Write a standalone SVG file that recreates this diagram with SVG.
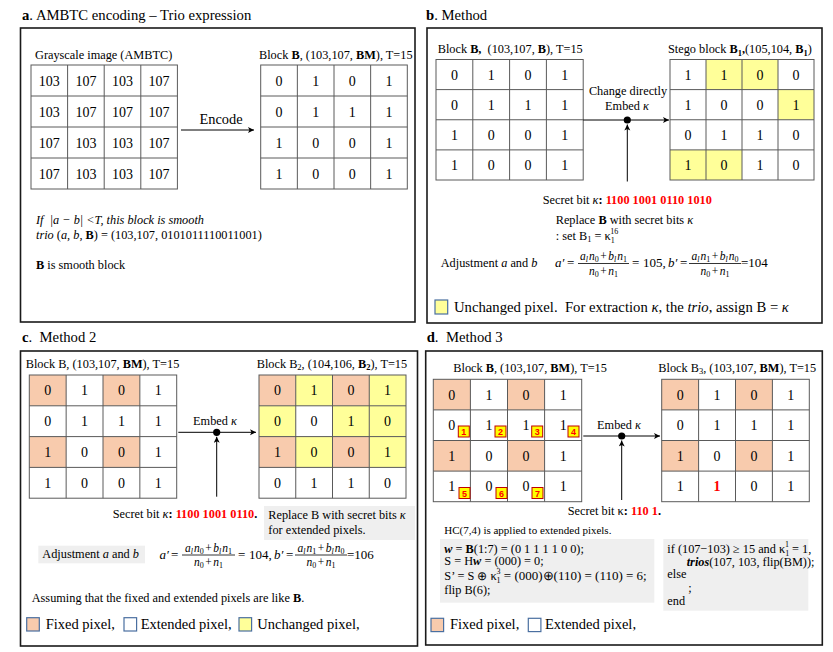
<svg xmlns="http://www.w3.org/2000/svg" width="833" height="652" viewBox="0 0 833 652">
<defs>
<style>
text{font-family:"Liberation Serif","Times New Roman",serif;fill:#000}
.ti{font-size:14.7px}
.lg{font-size:14.5px}
.lb{font-size:12.3px}
.sm{font-size:12.3px}
.dg{font-size:14px;text-anchor:middle}
.b{font-weight:bold}
.i{font-style:italic}
.r{fill:#FF0000;font-weight:bold}
.mid{text-anchor:middle}
.panel{fill:none;stroke:#1a1a1a;stroke-width:1.6}
.grid{fill:none;stroke:#5a5a5a;stroke-width:1}
.fx{fill:#F8CBAD}
.yl{fill:#FFFF99}
.wh{fill:#FFFFFF}
.gb{fill:#EFEFEF}
.conn{stroke:#000;stroke-width:1;fill:none}
.leg{stroke:#4A6FA0;stroke-width:1.2}
.badge{fill:#FFFF00;stroke:#C00000;stroke-width:1}
.bn{font-family:"Liberation Sans",Arial,sans-serif;font-size:9px;font-weight:bold;fill:#FF0000;text-anchor:middle}
.fr{font-size:11.5px}
.m{font-size:13px}
.bar{stroke:#000;stroke-width:0.8}
</style>
<marker id="ah" markerWidth="8" markerHeight="8" refX="6" refY="3" orient="auto" markerUnits="userSpaceOnUse"><path d="M0,0 L6,3 L0,6 L1.5,3 Z" fill="#000"/></marker>
</defs>
<rect width="833" height="652" fill="#FFFFFF"/>

<!-- Panel a -->
<g id="panel-a">
<text class="ti" x="22" y="19.5"><tspan class="b">a</tspan>. AMBTC encoding – Trio expression</text>
<rect class="panel" x="20.5" y="28" width="394.5" height="294"/>
</g>
<g id="grayscale-image">
<text class="sm" x="35" y="59">Grayscale image (AMBTC)</text>
<rect class="grid" x="31" y="65" width="146.4" height="124"/>
<path class="grid" d="M67.6,65V189M104.2,65V189M140.8,65V189M31,96H177.4M31,127H177.4M31,158H177.4"/>
<text class="dg" x="49.3" y="85.5">103</text><text class="dg" x="85.9" y="85.5">107</text><text class="dg" x="122.5" y="85.5">103</text><text class="dg" x="159.1" y="85.5">107</text>
<text class="dg" x="49.3" y="116.5">103</text><text class="dg" x="85.9" y="116.5">107</text><text class="dg" x="122.5" y="116.5">107</text><text class="dg" x="159.1" y="116.5">107</text>
<text class="dg" x="49.3" y="147.5">107</text><text class="dg" x="85.9" y="147.5">103</text><text class="dg" x="122.5" y="147.5">103</text><text class="dg" x="159.1" y="147.5">107</text>
<text class="dg" x="49.3" y="178.5">107</text><text class="dg" x="85.9" y="178.5">103</text><text class="dg" x="122.5" y="178.5">103</text><text class="dg" x="159.1" y="178.5">107</text>
</g>
<g id="block-B-a">
<text class="lb" x="259" y="59" font-size="12.1">Block <tspan class="b">B</tspan>, (103,107, <tspan class="b">BM</tspan>), T=15</text>
<rect class="grid" x="260.7" y="65" width="146.6" height="124"/>
<path class="grid" d="M297.35,65V189M334,65V189M370.65,65V189M260.7,96H407.3M260.7,127H407.3M260.7,158H407.3"/>
<text class="dg" x="279" y="85.5">0</text><text class="dg" x="315.7" y="85.5">1</text><text class="dg" x="352.3" y="85.5">0</text><text class="dg" x="389" y="85.5">1</text>
<text class="dg" x="279" y="116.5">0</text><text class="dg" x="315.7" y="116.5">1</text><text class="dg" x="352.3" y="116.5">1</text><text class="dg" x="389" y="116.5">1</text>
<text class="dg" x="279" y="147.5">1</text><text class="dg" x="315.7" y="147.5">0</text><text class="dg" x="352.3" y="147.5">0</text><text class="dg" x="389" y="147.5">1</text>
<text class="dg" x="279" y="178.5">1</text><text class="dg" x="315.7" y="178.5">0</text><text class="dg" x="352.3" y="178.5">0</text><text class="dg" x="389" y="178.5">1</text>
</g>
<g id="notes-a">
<text x="221" y="124" class="mid" font-size="14.4">Encode</text>
<text class="sm i" x="36" y="224" style="white-space:pre">If  |a − b| &lt;T, this block is smooth</text>
<text class="sm" x="36" y="238.5"><tspan class="i">trio</tspan> (<tspan class="i">a</tspan>, <tspan class="i">b</tspan>, <tspan class="b">B</tspan>) = (103,107, 0101011110011001)</text>
<text class="sm" x="36" y="269"><tspan class="b">B</tspan> is smooth block</text>
</g>

<!-- Panel b -->
<g id="panel-b">
<text class="ti" x="426" y="19.5"><tspan class="b">b</tspan>. Method</text>
<rect class="panel" x="427" y="28" width="395" height="295"/>
</g>
<g id="block-B-b">
<text class="lb" x="437.7" y="53" style="white-space:pre">Block <tspan class="b">B,</tspan>  (103,107, <tspan class="b">B</tspan>), T=15</text>
<rect class="grid" x="436" y="59.5" width="147.2" height="120.5"/>
<path class="grid" d="M472.8,59.5V180M509.6,59.5V180M546.4,59.5V180M436,89.6H583.2M436,119.75H583.2M436,149.9H583.2"/>
<text class="dg" x="454.4" y="79.6">0</text><text class="dg" x="491.2" y="79.6">1</text><text class="dg" x="528" y="79.6">0</text><text class="dg" x="564.8" y="79.6">1</text>
<text class="dg" x="454.4" y="109.7">0</text><text class="dg" x="491.2" y="109.7">1</text><text class="dg" x="528" y="109.7">1</text><text class="dg" x="564.8" y="109.7">1</text>
<text class="dg" x="454.4" y="139.8">1</text><text class="dg" x="491.2" y="139.8">0</text><text class="dg" x="528" y="139.8">0</text><text class="dg" x="564.8" y="139.8">1</text>
<text class="dg" x="454.4" y="169.9">1</text><text class="dg" x="491.2" y="169.9">0</text><text class="dg" x="528" y="169.9">0</text><text class="dg" x="564.8" y="169.9">1</text>
</g>
<g id="stego-block-B1">
<text class="lb" x="668" y="53" font-size="12.5">Stego block <tspan class="b">B</tspan><tspan class="b" font-size="8.5" dy="2.5">1</tspan><tspan class="b" dy="-2.5">,</tspan>(105,104, <tspan class="b">B</tspan><tspan class="b" font-size="8.5" dy="2.5">1</tspan><tspan dy="-2.5">)</tspan></text>
<rect class="yl" x="706" y="59.5" width="36" height="30.1"/>
<rect class="yl" x="742" y="59.5" width="36" height="30.1"/>
<rect class="yl" x="778" y="89.6" width="36" height="30.15"/>
<rect class="yl" x="670" y="149.9" width="36" height="30.1"/>
<rect class="yl" x="706" y="149.9" width="36" height="30.1"/>
<rect class="grid" x="670" y="59.5" width="144" height="120.5"/>
<path class="grid" d="M706,59.5V180M742,59.5V180M778,59.5V180M670,89.6H814M670,119.75H814M670,149.9H814"/>
<text class="dg" x="688" y="79.6">1</text><text class="dg" x="724" y="79.6">1</text><text class="dg" x="760" y="79.6">0</text><text class="dg" x="796" y="79.6">0</text>
<text class="dg" x="688" y="109.7">1</text><text class="dg" x="724" y="109.7">0</text><text class="dg" x="760" y="109.7">0</text><text class="dg" x="796" y="109.7">1</text>
<text class="dg" x="688" y="139.8">0</text><text class="dg" x="724" y="139.8">1</text><text class="dg" x="760" y="139.8">1</text><text class="dg" x="796" y="139.8">0</text>
<text class="dg" x="688" y="169.9">1</text><text class="dg" x="724" y="169.9">0</text><text class="dg" x="760" y="169.9">1</text><text class="dg" x="796" y="169.9">0</text>
</g>
<g id="notes-b">
<text class="sm mid" x="628" y="95">Change directly</text>
<text class="sm mid" x="627" y="109.5">Embed <tspan class="i">κ</tspan></text>
<text class="lb" x="542.7" y="204" font-size="12.5">Secret bit <tspan class="i">κ</tspan><tspan class="b">: </tspan><tspan class="r">1100 1001 0110 1010</tspan></text>
<text class="lb" x="555.7" y="223.5" font-size="12.5">Replace <tspan class="b">B</tspan> with secret bits <tspan class="i">κ</tspan></text>
<text class="lb" x="555.7" y="239.5" font-size="12.5">: set B<tspan font-size="8.5" dy="2.5">1</tspan><tspan dy="-2.5"> = κ</tspan><tspan font-size="8" dy="3">1</tspan><tspan font-size="8" dx="-4" dy="-9">16</tspan></text>
<text class="sm" x="440.7" y="267">Adjustment <tspan class="i">a</tspan> and <tspan class="i">b</tspan></text>
</g>
<g id="formula-b">
<text class="m" y="267"><tspan x="555" class="i">a′</tspan><tspan x="567">=</tspan><tspan x="632">=</tspan><tspan x="643">105,</tspan><tspan x="668" class="i">b′</tspan><tspan x="680">=</tspan><tspan x="741">=104</tspan></text>
<text class="fr mid" x="603.5" y="260"><tspan class="i">a</tspan><tspan class="i" font-size="8" dy="2">l</tspan><tspan class="i" dy="-2" dx="1">n</tspan><tspan font-size="8" dy="2">0</tspan><tspan dy="-2" dx="1.5">+</tspan><tspan class="i" dx="1.5">b</tspan><tspan class="i" font-size="8" dy="2">l</tspan><tspan class="i" dy="-2" dx="1">n</tspan><tspan font-size="8" dy="2">1</tspan></text>
<line class="bar" x1="578" y1="263.5" x2="629" y2="263.5"/>
<text class="fr mid" x="603.5" y="274.5"><tspan class="i">n</tspan><tspan font-size="8" dy="2">0</tspan><tspan dy="-2" dx="1.5">+</tspan><tspan class="i" dx="1.5">n</tspan><tspan font-size="8" dy="2">1</tspan></text>
<text class="fr mid" x="715" y="260"><tspan class="i">a</tspan><tspan class="i" font-size="8" dy="2">l</tspan><tspan class="i" dy="-2" dx="1">n</tspan><tspan font-size="8" dy="2">1</tspan><tspan dy="-2" dx="1.5">+</tspan><tspan class="i" dx="1.5">b</tspan><tspan class="i" font-size="8" dy="2">l</tspan><tspan class="i" dy="-2" dx="1">n</tspan><tspan font-size="8" dy="2">0</tspan></text>
<line class="bar" x1="689" y1="263.5" x2="741" y2="263.5"/>
<text class="fr mid" x="715" y="274.5"><tspan class="i">n</tspan><tspan font-size="8" dy="2">0</tspan><tspan dy="-2" dx="1.5">+</tspan><tspan class="i" dx="1.5">n</tspan><tspan font-size="8" dy="2">1</tspan></text>
</g>
<g id="legend-b">
<rect class="yl leg" x="435" y="300" width="12.7" height="14"/>
<text class="ti" x="454" y="311.7" style="white-space:pre">Unchanged pixel.  For extraction <tspan class="i">κ</tspan>, the <tspan class="i">trio</tspan>, assign B = <tspan class="i">κ</tspan></text>
</g>

<!-- Panel c -->
<g id="panel-c">
<text class="ti" x="22" y="342" style="white-space:pre"><tspan class="b">c</tspan>.  Method 2</text>
<rect class="panel" x="20.5" y="351" width="397" height="295"/>
</g>
<g id="block-B-c">
<text class="lb" x="25.7" y="367.7">Block B, (103,107, <tspan class="b">BM</tspan>), T=15</text>
<rect class="fx" x="29.3" y="375" width="36.85" height="30.8"/>
<rect class="fx" x="103" y="375" width="36.85" height="30.8"/>
<rect class="fx" x="29.3" y="436.6" width="36.85" height="30.8"/>
<rect class="fx" x="103" y="436.6" width="36.85" height="30.8"/>
<rect class="grid" x="29.3" y="375" width="147.4" height="123.2"/>
<path class="grid" d="M66.15,375V498.2M103,375V498.2M139.85,375V498.2M29.3,405.8H176.7M29.3,436.6H176.7M29.3,467.4H176.7"/>
<text class="dg" x="47.7" y="395.4">0</text><text class="dg" x="84.6" y="395.4">1</text><text class="dg" x="121.4" y="395.4">0</text><text class="dg" x="158.3" y="395.4">1</text>
<text class="dg" x="47.7" y="426.2">0</text><text class="dg" x="84.6" y="426.2">1</text><text class="dg" x="121.4" y="426.2">1</text><text class="dg" x="158.3" y="426.2">1</text>
<text class="dg" x="47.7" y="457">1</text><text class="dg" x="84.6" y="457">0</text><text class="dg" x="121.4" y="457">0</text><text class="dg" x="158.3" y="457">1</text>
<text class="dg" x="47.7" y="487.8">1</text><text class="dg" x="84.6" y="487.8">0</text><text class="dg" x="121.4" y="487.8">0</text><text class="dg" x="158.3" y="487.8">1</text>
</g>
<g id="block-B2">
<text class="lb" x="256.7" y="367.7" font-size="12.1">Block B<tspan font-size="8.5" dy="2.5">2</tspan><tspan dy="-2.5">, (104,106, </tspan><tspan class="b">B</tspan><tspan class="b" font-size="8.5" dy="2.5">2</tspan><tspan dy="-2.5">), T=15</tspan></text>
<rect class="fx" x="259" y="375" width="36.75" height="30.8"/>
<rect class="yl" x="295.75" y="375" width="36.75" height="30.8"/>
<rect class="fx" x="332.5" y="375" width="36.75" height="30.8"/>
<rect class="yl" x="369.25" y="375" width="36.75" height="30.8"/>
<rect class="yl" x="259" y="405.8" width="36.75" height="30.8"/>
<rect class="yl" x="332.5" y="405.8" width="36.75" height="30.8"/>
<rect class="yl" x="369.25" y="405.8" width="36.75" height="30.8"/>
<rect class="fx" x="259" y="436.6" width="36.75" height="30.8"/>
<rect class="yl" x="295.75" y="436.6" width="36.75" height="30.8"/>
<rect class="fx" x="332.5" y="436.6" width="36.75" height="30.8"/>
<rect class="yl" x="369.25" y="436.6" width="36.75" height="30.8"/>
<rect class="grid" x="259" y="375" width="147" height="123.2"/>
<path class="grid" d="M295.75,375V498.2M332.5,375V498.2M369.25,375V498.2M259,405.8H406M259,436.6H406M259,467.4H406"/>
<text class="dg" x="277.4" y="395.4">0</text><text class="dg" x="314.1" y="395.4">1</text><text class="dg" x="350.9" y="395.4">0</text><text class="dg" x="387.6" y="395.4">1</text>
<text class="dg" x="277.4" y="426.2">0</text><text class="dg" x="314.1" y="426.2">0</text><text class="dg" x="350.9" y="426.2">1</text><text class="dg" x="387.6" y="426.2">0</text>
<text class="dg" x="277.4" y="457">1</text><text class="dg" x="314.1" y="457">0</text><text class="dg" x="350.9" y="457">0</text><text class="dg" x="387.6" y="457">1</text>
<text class="dg" x="277.4" y="487.8">0</text><text class="dg" x="314.1" y="487.8">1</text><text class="dg" x="350.9" y="487.8">1</text><text class="dg" x="387.6" y="487.8">0</text>
</g>
<g id="notes-c">
<text class="sm mid" x="215" y="425">Embed <tspan class="i">κ</tspan></text>
<text class="lb" x="112.7" y="518.3" font-size="12.5">Secret bit <tspan class="i">κ</tspan><tspan class="b">: </tspan><tspan class="r">1100 1001 0110</tspan><tspan class="b">.</tspan></text>
<rect class="gb" x="264" y="506" width="151" height="34"/>
<text class="lb" x="268.3" y="518.5" font-size="12.5">Replace B with secret bits <tspan class="i">κ</tspan></text>
<text class="lb" x="268.3" y="534" font-size="12.5">for extended pixels.</text>
<rect class="gb" x="38.3" y="545.7" width="106.7" height="17.6"/>
<text class="sm" x="42.3" y="558.3">Adjustment <tspan class="i">a</tspan> and <tspan class="i">b</tspan></text>
<text class="sm" x="31.7" y="601.7">Assuming that the fixed and extended pixels are like <tspan class="b">B</tspan>.</text>
</g>
<g id="formula-c">
<text class="m" y="558.5"><tspan x="159.5" class="i">a′</tspan><tspan x="171">=</tspan><tspan x="238">=</tspan><tspan x="249">104,</tspan><tspan x="274" class="i">b′</tspan><tspan x="286">=</tspan><tspan x="347">=106</tspan></text>
<text class="fr mid" x="208.5" y="551.5"><tspan class="i">a</tspan><tspan class="i" font-size="8" dy="2">l</tspan><tspan class="i" dy="-2" dx="1">n</tspan><tspan font-size="8" dy="2">0</tspan><tspan dy="-2" dx="1.5">+</tspan><tspan class="i" dx="1.5">b</tspan><tspan class="i" font-size="8" dy="2">l</tspan><tspan class="i" dy="-2" dx="1">n</tspan><tspan font-size="8" dy="2">1</tspan></text>
<line class="bar" x1="182" y1="555" x2="235" y2="555"/>
<text class="fr mid" x="208.5" y="566"><tspan class="i">n</tspan><tspan font-size="8" dy="2">0</tspan><tspan dy="-2" dx="1.5">+</tspan><tspan class="i" dx="1.5">n</tspan><tspan font-size="8" dy="2">1</tspan></text>
<text class="fr mid" x="321" y="551.5"><tspan class="i">a</tspan><tspan class="i" font-size="8" dy="2">l</tspan><tspan class="i" dy="-2" dx="1">n</tspan><tspan font-size="8" dy="2">1</tspan><tspan dy="-2" dx="1.5">+</tspan><tspan class="i" dx="1.5">b</tspan><tspan class="i" font-size="8" dy="2">l</tspan><tspan class="i" dy="-2" dx="1">n</tspan><tspan font-size="8" dy="2">0</tspan></text>
<line class="bar" x1="295" y1="555" x2="347" y2="555"/>
<text class="fr mid" x="321" y="566"><tspan class="i">n</tspan><tspan font-size="8" dy="2">0</tspan><tspan dy="-2" dx="1.5">+</tspan><tspan class="i" dx="1.5">n</tspan><tspan font-size="8" dy="2">1</tspan></text>
</g>
<g id="legend-c">
<rect class="fx leg" x="26.7" y="617.7" width="12.6" height="13.3"/>
<text class="lg" x="45.7" y="629.3">Fixed pixel,</text>
<rect class="wh leg" x="124" y="617.7" width="12.6" height="13.3"/>
<text class="lg" x="140.7" y="629.3">Extended pixel,</text>
<rect class="yl leg" x="239" y="617.7" width="12.6" height="13.3"/>
<text class="lg" x="257.3" y="629.3">Unchanged pixel,</text>
</g>

<!-- Panel d -->
<g id="panel-d">
<text class="ti" x="426.7" y="342" style="white-space:pre"><tspan class="b">d</tspan>.  Method 3</text>
<rect class="panel" x="425.7" y="351" width="396.6" height="294"/>
</g>
<g id="block-B-d">
<text class="lb" x="453.3" y="371.7" font-size="12.5">Block <tspan class="b">B</tspan>, (103,107, <tspan class="b">BM</tspan>), T=15</text>
<rect class="fx" x="433.3" y="379.3" width="37.1" height="30.6"/>
<rect class="fx" x="507.5" y="379.3" width="37.1" height="30.6"/>
<rect class="fx" x="433.3" y="440.5" width="37.1" height="30.6"/>
<rect class="fx" x="507.5" y="440.5" width="37.1" height="30.6"/>
<rect class="grid" x="433.3" y="379.3" width="148.4" height="122.4"/>
<path class="grid" d="M470.4,379.3V501.7M507.5,379.3V501.7M544.6,379.3V501.7M433.3,409.9H581.7M433.3,440.5H581.7M433.3,471.1H581.7"/>
<text class="dg" x="451.85" y="399.6">0</text><text class="dg" x="488.95" y="399.6">1</text><text class="dg" x="526.05" y="399.6">0</text><text class="dg" x="563.15" y="399.6">1</text>
<text class="dg" x="451.85" y="430.2">0</text><text class="dg" x="488.95" y="430.2">1</text><text class="dg" x="526.05" y="430.2">1</text><text class="dg" x="563.15" y="430.2">1</text>
<text class="dg" x="451.85" y="460.8">1</text><text class="dg" x="488.95" y="460.8">0</text><text class="dg" x="526.05" y="460.8">0</text><text class="dg" x="563.15" y="460.8">1</text>
<text class="dg" x="451.85" y="491.4">1</text><text class="dg" x="488.95" y="491.4">0</text><text class="dg" x="526.05" y="491.4">0</text><text class="dg" x="563.15" y="491.4">1</text>
<rect class="badge" x="458.3" y="426" width="11" height="11"/><text class="bn" x="463.8" y="435">1</text>
<rect class="badge" x="495" y="426" width="11" height="11"/><text class="bn" x="500.5" y="435">2</text>
<rect class="badge" x="531.7" y="426" width="11" height="11"/><text class="bn" x="537.2" y="435">3</text>
<rect class="badge" x="568" y="426" width="11" height="11"/><text class="bn" x="573.5" y="435">4</text>
<rect class="badge" x="459" y="487.5" width="11" height="11"/><text class="bn" x="464.5" y="496.5">5</text>
<rect class="badge" x="496" y="487.5" width="11" height="11"/><text class="bn" x="501.5" y="496.5">6</text>
<rect class="badge" x="532" y="487.5" width="11" height="11"/><text class="bn" x="537.5" y="496.5">7</text>
</g>
<g id="block-B3">
<text class="lb" x="658.3" y="371.7" font-size="12.1">Block B<tspan font-size="8.5" dy="2.5">3</tspan><tspan dy="-2.5">, (103,107, </tspan><tspan class="b">BM</tspan>), T=15</text>
<rect class="fx" x="661.7" y="379.3" width="36.9" height="30.6"/>
<rect class="fx" x="735.5" y="379.3" width="36.9" height="30.6"/>
<rect class="fx" x="661.7" y="440.5" width="36.9" height="30.6"/>
<rect class="fx" x="735.5" y="440.5" width="36.9" height="30.6"/>
<rect class="grid" x="661.7" y="379.3" width="147.6" height="122.4"/>
<path class="grid" d="M698.6,379.3V501.7M735.5,379.3V501.7M772.4,379.3V501.7M661.7,409.9H809.3M661.7,440.5H809.3M661.7,471.1H809.3"/>
<text class="dg" x="680.15" y="399.6">0</text><text class="dg" x="717.05" y="399.6">1</text><text class="dg" x="753.95" y="399.6">0</text><text class="dg" x="790.85" y="399.6">1</text>
<text class="dg" x="680.15" y="430.2">0</text><text class="dg" x="717.05" y="430.2">1</text><text class="dg" x="753.95" y="430.2">1</text><text class="dg" x="790.85" y="430.2">1</text>
<text class="dg" x="680.15" y="460.8">1</text><text class="dg" x="717.05" y="460.8">0</text><text class="dg" x="753.95" y="460.8">0</text><text class="dg" x="790.85" y="460.8">1</text>
<text class="dg" x="680.15" y="491.4">1</text><text class="dg r" x="717.05" y="491.4">1</text><text class="dg" x="753.95" y="491.4">0</text><text class="dg" x="790.85" y="491.4">1</text>
</g>
<g id="notes-d">
<text class="sm mid" x="619" y="429">Embed <tspan class="i">κ</tspan></text>
<text class="lb" x="567.7" y="515" font-size="12.5">Secret bit κ<tspan class="b">: </tspan><tspan class="r">110 1</tspan><tspan class="b">.</tspan></text>
<text x="444.3" y="534.3" font-size="11">HC(7,4) is applied to extended pixels.</text>
<rect class="gb" x="440" y="539" width="214.3" height="63.7"/>
<text class="sm" x="444.3" y="552.7"><tspan class="b i">w</tspan> = <tspan class="b">B</tspan>(1:7) = (0 1 1 1 1 0 0);</text>
<text class="sm" x="444.3" y="565">S = H<tspan class="b i">w</tspan> = (000) = 0;</text>
<text class="sm" x="444.3" y="580">S’ = S ⊕ κ<tspan font-size="8" dy="3">1</tspan><tspan font-size="8" dx="-4" dy="-9">3</tspan><tspan font-size="13" dy="6"> = (000)⊕(110) = (110) = 6;</tspan></text>
<text class="sm" x="444.3" y="593.8">flip B(6);</text>
<rect class="gb" x="663.3" y="539" width="145" height="71.7"/>
<text class="sm" x="667.3" y="553">if (107−103) ≥ 15 and κ<tspan font-size="8" dy="3">1</tspan><tspan font-size="8" dx="-4" dy="-9">1</tspan><tspan dy="6"> = 1,</tspan></text>
<text class="sm" x="686.7" y="566">
<tspan class="b i">trios</tspan>(107, 103, flip(BM));</text>
<text class="sm" x="667.3" y="578">else</text>
<text class="sm" x="688.3" y="591.5">;</text>
<text class="sm" x="667.3" y="605">end</text>
</g>
<g id="legend-d">
<rect class="fx leg" x="431" y="618.3" width="12.6" height="13.3"/>
<text class="lg" x="450" y="629.3">Fixed pixel,</text>
<rect class="wh leg" x="528.3" y="618.3" width="12.6" height="13.3"/>
<text class="lg" x="545" y="629.3">Extended pixel,</text>
</g>

<!-- Connectors -->
<g id="connectors">
<line class="conn" x1="181" y1="130" x2="254" y2="130" marker-end="url(#ah)"/>
<line class="conn" x1="583.2" y1="120" x2="669" y2="120" marker-end="url(#ah)"/>
<line class="conn" x1="627.3" y1="181.5" x2="627.3" y2="124.5" marker-end="url(#ah)"/>
<circle cx="627.3" cy="120" r="3.6" fill="#000"/>
<line class="conn" x1="178.3" y1="432.3" x2="256" y2="432.3" marker-end="url(#ah)"/>
<line class="conn" x1="216.7" y1="496.7" x2="216.7" y2="436.8" marker-end="url(#ah)"/>
<circle cx="216.7" cy="432.3" r="3.6" fill="#000"/>
<line class="conn" x1="583.3" y1="436" x2="660" y2="436" marker-end="url(#ah)"/>
<line class="conn" x1="621.7" y1="500" x2="621.7" y2="440.5" marker-end="url(#ah)"/>
<circle cx="621.7" cy="436" r="3.6" fill="#000"/>
</g>
</svg>
